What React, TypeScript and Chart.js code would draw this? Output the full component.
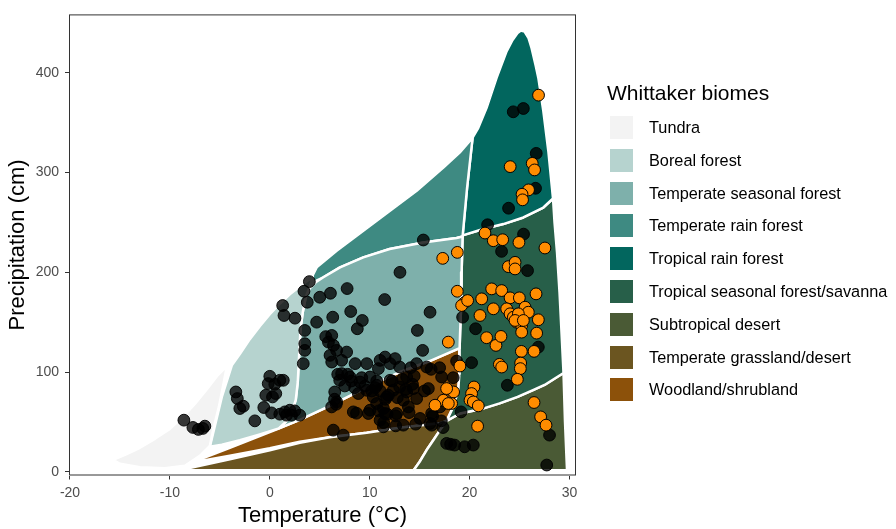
import React, { useEffect, useRef } from 'react';
import { Chart, registerables } from 'chart.js';

Chart.register(...registerables);

type Pt = [number, number];

const FONT = "'Liberation Sans', Arial, Helvetica, sans-serif";

const biomeNames = [
  'Tundra',
  'Boreal forest',
  'Temperate seasonal forest',
  'Temperate rain forest',
  'Tropical rain forest',
  'Tropical seasonal forest/savanna',
  'Subtropical desert',
  'Temperate grassland/desert',
  'Woodland/shrubland',
];

const biomeColors = [
  '#F3F3F3',
  '#B6D3CF',
  '#7EB0AB',
  '#3E8A82',
  '#02665E',
  '#275F49',
  '#4A5A35',
  '#6B5520',
  '#8C510A',
];

const xTicks = [-20, -10, 0, 10, 20, 30];
const yTicks = [0, 100, 200, 300, 400];

// Biome polygons: [temperature (°C), precipitation (cm)]
const tundraPoly: Pt[] = [
  [-15.7, 12], [-14.5, 17], [-13, 24], [-11.5, 33], [-10, 43], [-8.7, 55], [-7.5, 68],
  [-6.2, 84], [-5.2, 97], [-4.3, 106], [-4.6, 90], [-5.1, 65], [-5.6, 45], [-6, 26],
  [-7, 16], [-8.5, 6], [-10.5, 3.5], [-13, 4.5], [-15, 8],
];

const borealPoly: Pt[] = [
  [-6, 25], [-5.4, 50], [-4.8, 75], [-3.8, 106.7], [-3.0, 118], [-2.0, 133], [-1.0, 146],
  [0.0, 158], [1.0, 168.5], [2.0, 178], [3.35, 188.5], [4.3, 195], [4.0, 186], [3.6, 175],
  [3.3, 160], [3.1, 145], [3.0, 130], [2.9, 110], [2.8, 90], [2.6, 72], [2.2, 60], [1.6, 50],
  [0.9, 43.5], [-1.0, 37.5], [-3.0, 31.5], [-4.8, 27],
];

const tempSeasonalPoly: Pt[] = [
  [0.9, 43.5], [1.6, 50], [2.2, 60], [2.6, 72], [2.8, 90], [2.9, 110], [3.0, 130], [3.1, 145],
  [3.3, 160], [3.6, 175], [4.0, 184], [4.6, 190], [5.36, 195], [7.03, 205], [9.36, 215],
  [12.0, 223.4], [15.37, 230], [18.7, 234.5], [19.3, 236], [19.2, 200], [19.15, 165],
  [19.05, 140], [19.0, 124], [16, 111], [13, 100], [10, 86], [6, 66], [3, 52],
];

const tempRainPoly: Pt[] = [
  [4.3, 190], [5.36, 195], [7.03, 205], [9.36, 215], [12.0, 223.4], [15.37, 230], [18.7, 234.5],
  [19.3, 236], [19.75, 285], [20.3, 335], [19.0, 320], [17.37, 305], [14.7, 281.7],
  [12.03, 261.7], [9.36, 241.7], [6.69, 221.7], [4.69, 205], [4.3, 197],
];

const tropRainPoly: Pt[] = [
  [19.3, 237], [19.75, 285], [20.3, 335], [20.87, 345], [21.7, 365], [22.7, 395], [23.7, 421.7],
  [24.3, 433], [24.8, 440], [25.1, 442.4], [25.5, 441.5], [25.9, 435], [26.2, 425], [26.6, 408],
  [26.88, 395], [27.38, 361.7], [27.88, 321.7], [28.35, 274], [27.38, 265], [25.38, 255],
  [23.37, 248.4], [21.37, 243.4],
];

const tropSeasonalPoly: Pt[] = [
  [17.7, 51], [18.37, 65], [18.87, 82], [18.97, 98], [19.0, 124], [19.05, 140], [19.15, 165],
  [19.2, 200], [19.3, 237], [21.37, 243.4], [23.37, 248.4], [25.38, 255], [27.38, 265],
  [28.35, 274], [28.5, 250], [28.75, 220], [29.0, 180], [29.2, 140], [29.4, 99], [27.5, 87],
  [26.4, 82], [24.8, 75], [23.0, 68.5], [21.4, 63.5], [19.04, 58.4],
];

const subDesertPoly: Pt[] = [
  [14.4, 1.5], [15.0, 10], [15.7, 21.7], [16.4, 32], [17.04, 41.7], [17.7, 51], [19.04, 58.4],
  [21.4, 63.5], [23.0, 68.5], [24.8, 75], [26.4, 82], [27.5, 87], [29.4, 99], [29.55, 50],
  [29.75, 1.5],
];

const grassPoly: Pt[] = [
  [-8.6, 1.5], [-8.6, 2.5], [-4, 12.5], [0, 21.5], [3, 29], [6, 34.5], [9.7, 39], [13, 44],
  [17, 48.5], [17.7, 51], [17.04, 41.7], [16.4, 32], [15.7, 21.7], [15.0, 10], [14.4, 1.5],
];

const woodlandPoly: Pt[] = [
  [-7.9, 9], [-4, 24], [0.7, 42.5], [3, 52], [6, 66], [10, 86], [13, 100], [16, 111], [19.0, 124],
  [18.97, 98], [18.87, 82], [18.37, 65], [17.7, 51], [17, 48.5], [13, 44], [9.7, 39], [6, 34.5],
  [3, 30], [0, 23.5], [-4, 16],
];

const biomePolygons = [
  tundraPoly, borealPoly, tempSeasonalPoly, tempRainPoly, tropRainPoly,
  tropSeasonalPoly, subDesertPoly, grassPoly, woodlandPoly,
];

// Sites: [temperature (°C), precipitation (cm)]
const blackSites: Pt[] = [
  [-8.6, 51.7], [-7.7, 44.4], [-7.15, 42.4], [-6.7, 43.4], [-6.5, 45.7],
  [-3.4, 80], [-3.25, 73.4], [-2.65, 65.7], [-3.0, 63.4], [-1.5, 51],
  [0.0, 95.7], [-0.16, 88.4], [0.5, 87.7], [1.0, 91.7], [1.35, 91.7],
  [-0.4, 76.7], [0.27, 75], [0.6, 78.4],
  [-0.6, 64.4], [0.17, 59], [1.0, 57.7], [1.5, 60], [2.0, 61.7], [2.5, 61], [3.0, 56.7], [1.67, 56.7], [2.17, 56.7],
  [3.96, 190.7], [3.42, 181], [3.75, 170], [5.0, 175], [6.07, 179], [7.74, 183.7], [1.29, 166.7],
  [1.42, 156.7], [2.52, 154], [4.69, 150], [6.3, 155], [8.1, 160.7], [9.26, 151.7], [8.76, 143.4],
  [3.5, 141.7], [5.6, 135.5], [6.2, 136.7],
  [11.5, 172.7], [13.03, 200], [15.37, 232.4], [16.04, 160], [14.77, 141.7], [15.3, 121.7],
  [3.5, 128.4], [3.5, 121.7], [3.35, 108.4], [5.87, 130], [6.37, 126.7], [6.03, 116.7], [6.2, 110],
  [6.69, 121.7], [7.69, 120], [7.19, 111.7], [8.54, 108.4], [9.71, 108.4], [10.87, 103.4],
  [11.54, 115], [12.54, 113.4], [12.04, 108.4], [11.04, 111.7],
  [7.19, 98.4], [8.03, 95], [9.03, 90], [10.03, 95], [10.7, 86.7], [9.7, 81.7], [10.36, 75],
  [8.86, 78.4], [6.69, 70], [6.19, 65], [8.36, 60], [10.03, 61.7], [11.37, 63.4], [11.04, 51.7],
  [9.86, 58.4], [10.7, 68.4], [7.0, 91.7], [6.5, 80],
  [13.0, 105], [13.7, 95], [14.7, 108.4], [15.7, 105], [13.0, 85], [13.7, 80], [14.37, 83.4],
  [14.7, 73.4], [13.37, 71.7], [13.87, 65], [12.36, 81.7], [11.7, 75], [11.53, 58.4], [12.7, 58.4],
  [12.04, 91.7], [11.87, 76.7], [15.87, 83.4], [15.04, 53.4], [16.04, 48.4], [16.2, 58.4],
  [17.2, 95], [17.04, 65], [11.37, 45], [13.37, 46.7], [16.2, 46.7], [6.36, 41.7], [7.36, 36.7],
  [8.68, 58.7], [10.9, 61], [11.74, 57.7], [12.6, 56], [13.94, 59.3], [14.6, 47.7], [16.3, 56],
  [17.17, 51], [17.34, 44.3], [11.4, 49.3], [12.6, 46], [16.15, 102.7], [17.0, 104.3],
  [18.36, 94.3], [18.7, 111], [15.47, 81], [14.28, 87.7], [13.6, 82.7], [12.76, 74.3],
  [11.57, 72.7], [10.55, 84.3], [7.5, 86], [8.5, 84.3], [6.48, 72.7], [6.65, 67.7], [6.8, 97.7],
  [7.8, 97.7], [8.17, 91], [9.2, 94.3], [9.53, 86], [10.7, 91], [11.06, 81], [10.2, 81],
  [12.25, 91], [13.27, 92.7], [14.1, 104.3], [14.45, 96],
  [17.7, 28.4], [18.5, 26.7], [19.5, 25], [20.37, 26.7], [18.1, 27.5],
  [24.37, 361], [25.38, 364.3], [26.67, 319.3], [26.6, 284.3], [23.9, 264.3], [21.8, 247.7],
  [25.4, 238.3], [23.2, 221], [25.8, 201.7], [19.3, 155], [20.6, 143.4], [26.88, 125],
  [20.2, 109.4], [23.78, 86.7], [19.15, 60], [28.0, 36.7], [27.72, 6.7],
];

const orangeSites: Pt[] = [
  [26.9, 377.7], [24.06, 306], [26.27, 309.3], [26.5, 302.7], [25.9, 282.7], [25.25, 278.3], [25.3, 272.7],
  [21.54, 239.4], [22.37, 231.7], [23.31, 232.7], [24.94, 230], [27.54, 224.4], [18.77, 220],
  [17.31, 214], [23.88, 205.7], [24.55, 210], [24.55, 203.4],
  [18.77, 181], [22.21, 183.4], [23.21, 181.7], [24.05, 174.4], [24.98, 174.4], [26.65, 178.4],
  [21.21, 173.4], [19.54, 170], [19.2, 166.7], [19.8, 171.7],
  [22.38, 163.4], [21.04, 156.7],
  [23.71, 163.4], [24.05, 158.4], [24.38, 155], [24.71, 150], [25.21, 146.7], [25.21, 140],
  [25.55, 165], [25.88, 160], [24.88, 158.4], [24.55, 151.7], [25.38, 151.7],
  [26.88, 152.4], [26.71, 139], [21.7, 134.4], [22.64, 126.7], [23.14, 135.7], [25.18, 120.7],
  [26.45, 120.7], [22.98, 107.7], [23.21, 105], [25.11, 109], [25.08, 103.4], [24.78, 92.7],
  [19.03, 106],
  [20.44, 85], [20.2, 78.4], [20.04, 71.7], [20.37, 70], [20.87, 66], [20.8, 45.7], [26.45, 69.4],
  [27.11, 55], [27.65, 46.7], [18.4, 80], [18.2, 68.4],
  [17.87, 130], [17.7, 83.4], [17.37, 71.7], [17.87, 68.4], [16.54, 66.7],
];

const toXY = (pts: Pt[]) => pts.map(([x, y]) => ({ x, y }));

const panelBorder = {
  id: 'panelBorder',
  afterDatasetsDraw(chart: any) {
    const { ctx, chartArea: a } = chart;
    ctx.save();
    ctx.strokeStyle = '#333333';
    ctx.lineWidth = 1;
    ctx.strokeRect(a.left + 0.5, a.top + 0.5, a.right - a.left - 1, a.bottom - a.top - 1);
    ctx.restore();
  },
};

export default function App() {
  const canvasRef = useRef<HTMLCanvasElement | null>(null);

  useEffect(() => {
    if (!canvasRef.current) return;
    const polyDatasets = biomePolygons.map((poly, i) => ({
      type: 'scatter' as const,
      label: biomeNames[i],
      data: toXY([...poly, poly[0]]),
      showLine: true,
      fill: 'shape',
      backgroundColor: biomeColors[i],
      borderColor: '#FFFFFF',
      borderWidth: 2.5,
      borderJoinStyle: 'round',
      tension: 0,
      pointRadius: 0,
      pointHoverRadius: 0,
      order: 10 + i,
    }));

    const chart = new Chart(canvasRef.current, {
      type: 'scatter',
      data: {
        datasets: [
          {
            label: 'sites',
            data: toXY(blackSites),
            backgroundColor: 'rgba(0,0,0,0.78)',
            borderColor: 'rgba(0,0,0,0.9)',
            borderWidth: 1,
            pointRadius: 5.9,
            order: 1,
          },
          {
            label: 'sites2',
            data: toXY(orangeSites),
            backgroundColor: '#FF8C00',
            borderColor: '#000000',
            borderWidth: 1,
            pointRadius: 5.9,
            order: 0,
          },
          ...(polyDatasets as any[]),
        ],
      },
      options: {
        animation: false,
        responsive: false,
        devicePixelRatio: 1,
        events: [],
        layout: { padding: { top: 13, right: 320, left: 0, bottom: 0 } },
        plugins: { legend: { display: false }, tooltip: { enabled: false } },
        scales: {
          x: {
            type: 'linear',
            min: -20.1,
            max: 30.65,
            afterBuildTicks: (s: any) => {
              s.ticks = xTicks.map((v) => ({ value: v }));
            },
            afterFit: (s: any) => {
              s.height = 53.5;
            },
            grid: { drawOnChartArea: false, color: '#333333', tickLength: 4 },
            border: { display: false },
            ticks: {
              color: '#4D4D4D',
              font: { size: 14, family: FONT },
              padding: 5,
              maxRotation: 0,
              autoSkip: false,
              callback: (v: any) => String(v),
            },
            title: {
              display: true,
              text: 'Temperature (°C)',
              color: '#000000',
              font: { size: 22, family: FONT },
              padding: { top: 0, bottom: 0 },
            },
          },
          y: {
            type: 'linear',
            min: -3.8,
            max: 458.7,
            afterBuildTicks: (s: any) => {
              s.ticks = yTicks.map((v) => ({ value: v }));
            },
            afterFit: (s: any) => {
              s.width = 69;
            },
            grid: { drawOnChartArea: false, color: '#333333', tickLength: 4 },
            border: { display: false },
            ticks: {
              color: '#4D4D4D',
              font: { size: 14, family: FONT },
              padding: 6,
              autoSkip: false,
              callback: (v: any) => String(v),
            },
            title: {
              display: true,
              text: 'Precipitation (cm)',
              color: '#000000',
              font: { size: 22, family: FONT },
              padding: { top: 5, bottom: 0 },
            },
          },
        },
      } as any,
      plugins: [panelBorder],
    });
    return () => chart.destroy();
  }, []);

  return (
    <div style={{ position: 'fixed', left: 0, top: 0, width: 896, height: 529, background: '#FFFFFF' }}>
      <canvas ref={canvasRef} width={896} height={529} style={{ display: 'block' }} />
      <div
        style={{
          position: 'absolute',
          left: 607,
          top: 80,
          fontFamily: FONT,
          fontSize: 21,
          lineHeight: '25px',
          color: '#000',
          whiteSpace: 'nowrap',
        }}
      >
        Whittaker biomes
      </div>
      {biomeNames.map((name, i) => (
        <React.Fragment key={name}>
          <div
            style={{
              position: 'absolute',
              left: 610,
              top: 116 + i * 32.8,
              width: 23,
              height: 23,
              background: biomeColors[i],
            }}
          />
          <div
            style={{
              position: 'absolute',
              left: 649,
              top: 116 + i * 32.8,
              height: 23,
              lineHeight: '23px',
              fontFamily: FONT,
              fontSize: 16.3,
              color: '#000',
              whiteSpace: 'nowrap',
            }}
          >
            {name}
          </div>
        </React.Fragment>
      ))}
    </div>
  );
}
